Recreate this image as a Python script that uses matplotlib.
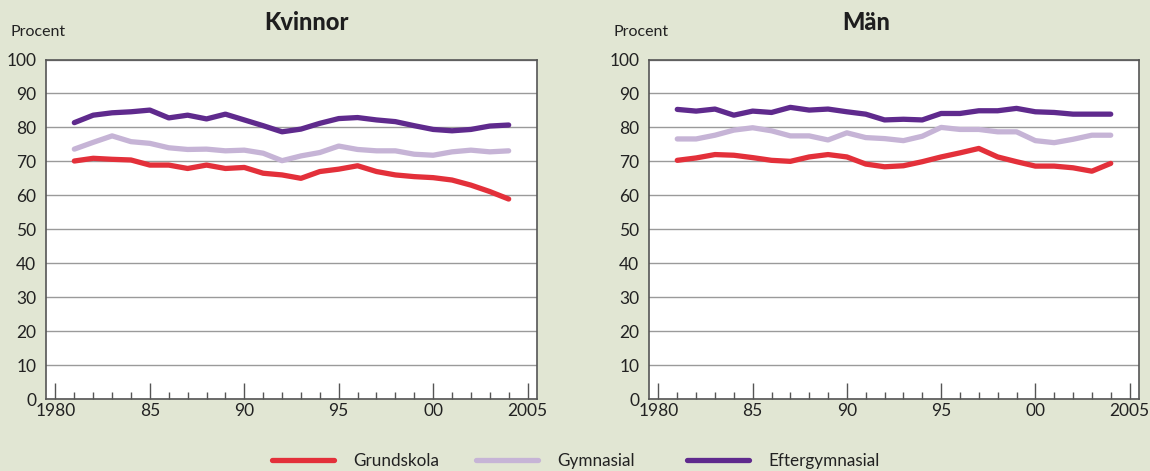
import matplotlib
matplotlib.use("Agg")
import matplotlib.pyplot as plt
from matplotlib.ticker import MultipleLocator, FixedLocator

plt.rcParams['font.family'] = ['Lato', 'DejaVu Sans']

years = list(range(1981, 2005))

kv_grund = [70.1, 70.9, 70.6, 70.4, 68.9, 68.9, 67.9, 68.9, 67.9, 68.2, 66.5, 66.0,
            65.0, 67.0, 67.7, 68.7, 67.0, 66.0, 65.5, 65.2, 64.5, 63.0, 61.1, 58.9]
kv_gymn = [73.6, 75.6, 77.5, 75.8, 75.3, 74.0, 73.5, 73.6, 73.1, 73.3, 72.4, 70.2,
           71.6, 72.6, 74.5, 73.5, 73.1, 73.1, 72.1, 71.8, 72.8, 73.3, 72.8, 73.1]
kv_efter = [81.4, 83.6, 84.3, 84.6, 85.1, 82.8, 83.6, 82.5, 83.9, 82.2, 80.5, 78.7,
            79.5, 81.2, 82.6, 82.9, 82.2, 81.7, 80.5, 79.4, 79.0, 79.4, 80.4, 80.7]

man_grund = [70.3, 71.0, 72.0, 71.8, 71.1, 70.3, 70.0, 71.3, 72.0, 71.3, 69.2, 68.4,
             68.7, 69.9, 71.3, 72.5, 73.8, 71.3, 69.9, 68.6, 68.6, 68.1, 67.1, 69.4]
man_gymn = [76.6, 76.6, 77.7, 79.2, 79.9, 79.0, 77.5, 77.5, 76.3, 78.4, 77.0, 76.7,
            76.1, 77.4, 80.0, 79.4, 79.4, 78.7, 78.7, 76.1, 75.5, 76.5, 77.7, 77.7]
man_efter = [85.3, 84.8, 85.4, 83.6, 84.8, 84.4, 85.9, 85.1, 85.4, 84.6, 83.9, 82.2,
             82.4, 82.2, 84.1, 84.1, 84.9, 84.9, 85.6, 84.6, 84.4, 83.9, 83.9, 83.9]

series_names = ["Grundskola", "Gymnasial", "Eftergymnasial"]
colors = ["#e3303a", "#c6b4d6", "#5f2a8d"]
panel_titles = ["Kvinnor", "Män"]
xtick_pos = [1980, 1985, 1990, 1995, 2000, 2005]
xtick_labels = ["1980", "85", "90", "95", "00", "2005"]
yticks = list(range(0, 101, 10))

bg = "#e1e6d3"
W, H = 1150, 471
fig = plt.figure(figsize=(W / 100, H / 100), dpi=100, facecolor=bg)

axes_rects = [
    [46 / W, 1 - 399 / H, 491 / W, 339.5 / H],
    [649 / W, 1 - 399 / H, 490 / W, 339.5 / H],
]
data = [[kv_grund, kv_gymn, kv_efter], [man_grund, man_gymn, man_efter]]
title_x = [306, 866]

spine_col = "#555555"
handles = []
for i, rect in enumerate(axes_rects):
    ax = fig.add_axes(rect)
    ax.set_facecolor("white")
    for s in ax.spines.values():
        s.set_color(spine_col)
        s.set_linewidth(1.2)
    ax.set_xlim(1979.5, 2005.5)
    ax.set_ylim(0, 100)
    ax.set_yticks(yticks)
    ax.yaxis.grid(True, color="#9a9a9a", linewidth=1.0)
    ax.set_axisbelow(True)
    ax.tick_params(axis='y', length=0, pad=7, labelsize=12.5, colors="#222222")
    ax.xaxis.set_major_locator(FixedLocator(xtick_pos))
    ax.set_xticklabels(xtick_labels)
    ax.xaxis.set_minor_locator(MultipleLocator(1))
    ax.tick_params(axis='x', which='major', direction='in', length=11.5, width=1.0,
                   color=spine_col, pad=3, labelsize=12.5, labelcolor="#222222")
    ax.tick_params(axis='x', which='minor', direction='in', length=5, width=1.0,
                   color=spine_col)
    for vals, name, c in zip(data[i], series_names, colors):
        ln, = ax.plot(years, vals, color=c, linewidth=3.8, solid_capstyle='round',
                      solid_joinstyle='round', label=name)
        if i == 0:
            handles.append(ln)
    fig.text(title_x[i] / W, 1 - 22 / H, panel_titles[i], ha='center', va='center',
             fontsize=17, fontweight='black', color="#1e1e1e")

fig.text(10 / W, 1 - 32 / H, "Procent", ha='left', va='center', fontsize=11.5, color="#222222")
fig.text((10 + 603) / W, 1 - 32 / H, "Procent", ha='left', va='center', fontsize=11.5, color="#222222")

legend_x = [272, 476, 687]
for h, lx in zip(handles, legend_x):
    fig.legend(handles=[h], loc='center left', bbox_to_anchor=(lx / W, 1 - 461 / H),
               frameon=False, fontsize=12.3, handlelength=3.6, handletextpad=1.17,
               borderpad=0, borderaxespad=0, labelcolor="#222222")

fig.savefig("out.png", dpi=100, facecolor=bg)
